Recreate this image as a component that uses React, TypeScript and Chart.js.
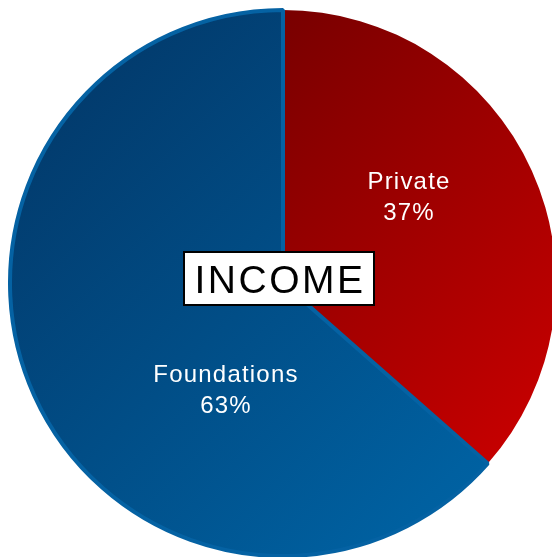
import React, { useEffect, useRef } from "react";
import { Chart, registerables } from "chart.js";

Chart.register(...registerables);

const categories = ["Private", "Foundations"];
const shares = [36.5, 63.5];
const shareLabels = ["37%", "63%"];
const centerTitle = "INCOME";

const W = 552;
const H = 557;

function makeGradient(chart: any, idx: number) {
  const ctx = chart.ctx;
  const meta = chart.getDatasetMeta(0);
  const arc = meta && meta.data && meta.data[idx];
  const cx = arc && arc.x ? arc.x : 283;
  const cy = arc && arc.y ? arc.y : 283;
  const r = 273;
  const g = ctx.createLinearGradient(cx - r, cy - r, cx + r, cy + r);
  if (idx === 0) {
    g.addColorStop(0, "#5e0000");
    g.addColorStop(0.28, "#7c0000");
    g.addColorStop(0.88, "#c80000");
    g.addColorStop(1, "#d20000");
  } else {
    g.addColorStop(0, "#01345f");
    g.addColorStop(0.13, "#023b6d");
    g.addColorStop(0.83, "#0060a0");
    g.addColorStop(1, "#0066a8");
  }
  return g;
}

const labelPlugin = {
  id: "labels",
  afterDraw(chart: any) {
    const ctx = chart.ctx;
    const meta = chart.getDatasetMeta(0);
    const arc = meta.data[0];
    const cx = arc.x;
    const cy = arc.y;
    const offsets = [
      [126, -87],
      [-57, 106],
    ];
    ctx.save();
    ctx.fillStyle = "#ffffff";
    ctx.textAlign = "center";
    ctx.textBaseline = "alphabetic";
    ctx.font = "24px 'Liberation Sans', Arial, sans-serif";
    try {
      (ctx as any).letterSpacing = "1.2px";
    } catch (e) {}
    categories.forEach((c, i) => {
      const x = cx + offsets[i][0];
      const y = cy + offsets[i][1];
      ctx.fillText(c, x, y - 7);
      ctx.fillText(shareLabels[i], x, y + 24);
    });
    // center title box
    const bx = cx - 4;
    const by = cy - 4.5;
    const bw = 190;
    const bh = 53;
    ctx.fillStyle = "#ffffff";
    ctx.fillRect(bx - bw / 2, by - bh / 2, bw, bh);
    ctx.strokeStyle = "#000000";
    ctx.lineWidth = 2;
    ctx.strokeRect(bx - bw / 2, by - bh / 2, bw, bh);
    ctx.fillStyle = "#000000";
    ctx.font = "39px 'Liberation Sans', Arial, sans-serif";
    try {
      (ctx as any).letterSpacing = "2.5px";
    } catch (e) {}
    ctx.fillText(centerTitle, bx + 1, by + 14);
    ctx.restore();
  },
};

export default function App() {
  const ref = useRef<HTMLCanvasElement | null>(null);
  useEffect(() => {
    if (!ref.current) return;
    const chart = new Chart(ref.current, {
      type: "pie",
      data: {
        labels: categories,
        datasets: [
          {
            data: shares,
            backgroundColor: (context: any) => makeGradient(context.chart, context.dataIndex),
            borderColor: ["rgba(0,0,0,0)", "#0562a3"],
            borderWidth: [0, 4],
            borderAlign: "center",
          } as any,
        ],
      },
      options: {
        responsive: false,
        animation: false,
        events: [],
        radius: 273,
        layout: { padding: { left: 14, right: 0, top: 9, bottom: 0 } },
        plugins: {
          legend: { display: false },
          tooltip: { enabled: false },
          title: { display: false },
        },
      } as any,
      plugins: [labelPlugin],
    });
    return () => chart.destroy();
  }, []);
  return (
    <div style={{ position: "fixed", left: 0, top: 0, width: W, height: H, background: "#ffffff" }}>
      <canvas ref={ref} width={W} height={H} style={{ width: W, height: H, display: "block" }} />
    </div>
  );
}
